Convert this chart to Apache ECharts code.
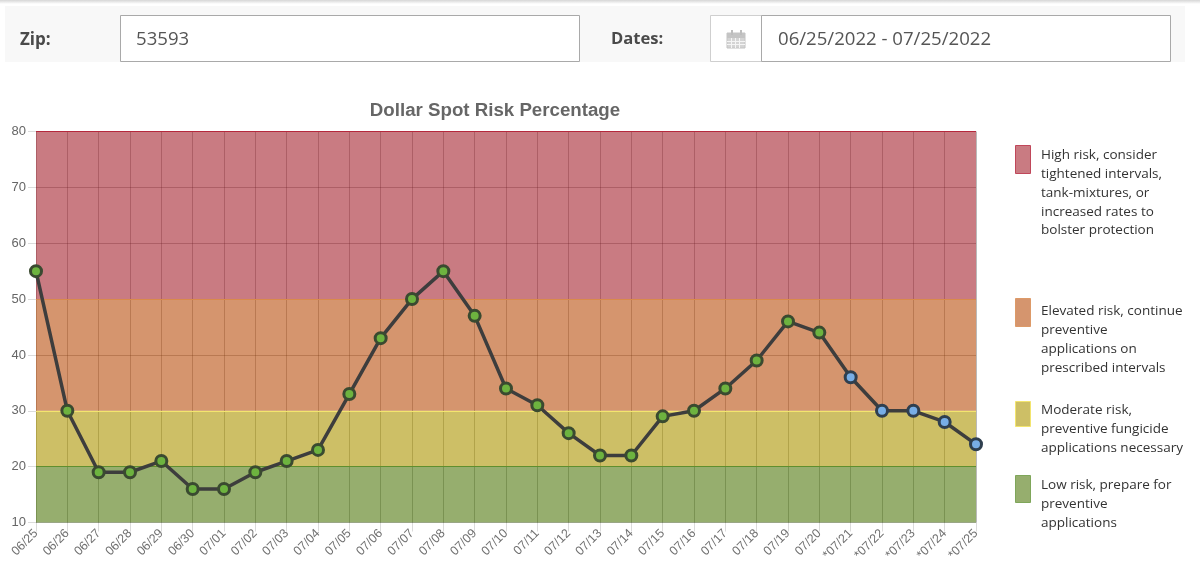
<!DOCTYPE html>
<html>
<head>
<meta charset="utf-8">
<script src="https://cdn.jsdelivr.net/npm/echarts@6/dist/echarts.min.js"></script>
<style>html,body{margin:0;padding:0;background:#fff}#c{width:1200px;height:561px}</style>
</head>
<body>
<div id="c"></div>
<script>
var categories = ['06/25','06/26','06/27','06/28','06/29','06/30','07/01','07/02','07/03','07/04','07/05','07/06','07/07','07/08','07/09','07/10','07/11','07/12','07/13','07/14','07/15','07/16','07/17','07/18','07/19','07/20','*07/21','*07/22','*07/23','*07/24','*07/25'];
var riskValues = [55,30,19,19,21,16,16,19,21,23,33,43,50,55,47,34,31,26,22,22,29,30,34,39,46,44,36,30,30,28,24];
var bandLower = [50,30,20,10];
var bandUpper = [80,50,30,20];
var bandFill = ['rgba(165,35,47,0.6)','rgba(185,78,13,0.6)','rgba(172,148,0,0.6)','rgba(80,120,13,0.6)'];
var bandEdge = ['#b5283c','#d98a4a','#f3e56e','#5f8f2e'];
var swatchFill = ['#c97b82','#d5956e','#cdbf66','#96ae6e'];
var swatchEdge = ['#c0475a','#dd9a68','#f3e56e','#7fa65a'];
var legendLines = [
  'High risk, consider\ntightened intervals,\ntank-mixtures, or\nincreased rates to\nbolster protection',
  'Elevated risk, continue\npreventive\napplications on\nprescribed intervals',
  'Moderate risk,\npreventive fungicide\napplications necessary',
  'Low risk, prepare for\npreventive\napplications'
];
var swatchTop = [145,298,401,475];
var swatchHeight = [28,28,25,27];
var textTop = [146,302,401,476];

var FORM = '"Open Sans", sans-serif';
var CHART = '"Liberation Sans", Arial, sans-serif';

function box(x,y,w,h,fill,stroke){
  return {type:'rect',silent:true,shape:{x:x+.5,y:y+.5,width:w,height:h},style:{fill:fill,stroke:stroke||null,lineWidth:stroke?1:0}};
}
function label(x,y,text,font,color){
  return {type:'text',silent:true,x:x,y:y,style:{text:text,font:font,fill:color,textVerticalAlign:'middle'}};
}
var g = [];
g.push({type:'rect',silent:true,shape:{x:0,y:0,width:1200,height:4},style:{fill:new echarts.graphic.LinearGradient(0,0,0,1,[{offset:0,color:'#d6d6d6'},{offset:1,color:'#ffffff'}])}});
g.push({type:'rect',silent:true,shape:{x:5,y:6,width:1180,height:56},style:{fill:'#f8f8f8'}});
g.push(label(20,40,'Zip:','bold 17px '+FORM,'#4a4a4a'));
g.push(box(120,15,459,46,'#ffffff','#a9a9a9'));
g.push(label(136,40,'53593','18.6px '+FORM,'#555555'));
g.push(label(611,39.5,'Dates:','bold 16.6px '+FORM,'#4a4a4a'));
g.push(box(710,15,51,46,'#ffffff','#cfcfcf'));
g.push(box(761,15,409,46,'#ffffff','#a9a9a9'));
g.push(label(778,40,'06/25/2022 - 07/25/2022','18.6px '+FORM,'#555555'));
// calendar icon
g.push({type:'rect',silent:true,shape:{x:727,y:33,width:18,height:15},style:{fill:'#d4d4d4',stroke:'#c4c4c4'}});
g.push({type:'rect',silent:true,shape:{x:727,y:33,width:18,height:5},style:{fill:'#c4c4c4'}});
[731,740].forEach(function(x){g.push({type:'rect',silent:true,shape:{x:x,y:30,width:2,height:5},style:{fill:'#bdbdbd'}});});
[731.5,735.5,739.5].forEach(function(x){g.push({type:'line',silent:true,shape:{x1:x,y1:38,x2:x,y2:48},style:{stroke:'#f5f5f5',lineWidth:1}});});
[41.5,44.5].forEach(function(y){g.push({type:'line',silent:true,shape:{x1:727,y1:y,x2:745,y2:y},style:{stroke:'#f5f5f5',lineWidth:1}});});

legendLines.forEach(function(t,i){
  g.push(box(1015,swatchTop[i],15,swatchHeight[i],swatchFill[i],swatchEdge[i]));
  g.push({type:'text',silent:true,x:1041,y:textTop[i],style:{text:t,font:'13.5px '+FORM,fill:'#333333',lineHeight:18.8,textVerticalAlign:'top'}});
});

var chart = echarts.init(document.getElementById('c'));
chart.setOption({
  animation:false,
  backgroundColor:'#ffffff',
  title:{text:'Dollar Spot Risk Percentage',left:490,top:96,textAlign:'center',textStyle:{fontFamily:CHART,fontWeight:'bold',fontSize:18.7,color:'#666666'}},
  grid:{left:36,right:224,top:131.5,bottom:38.5,outerBoundsMode:'none'},
  xAxis:{type:'category',data:categories,boundaryGap:false,
    axisLine:{show:false},
    axisTick:{show:true,alignWithLabel:true,length:9,lineStyle:{color:'rgba(0,0,0,0.14)'}},
    axisLabel:{interval:0,rotate:45,fontFamily:CHART,fontSize:12.5,color:'#707070',margin:9},
    splitLine:{show:true,interval:0,lineStyle:{color:'rgba(0,0,0,0.27)',width:1}}},
  yAxis:{type:'value',min:10,max:80,interval:10,
    axisLine:{show:false},
    axisTick:{show:true,length:8,lineStyle:{color:'rgba(0,0,0,0.14)'}},
    axisLabel:{fontFamily:CHART,fontSize:13,color:'#666666',margin:10},
    splitLine:{show:true,lineStyle:{color:'rgba(0,0,0,0.27)',width:1}}},
  series:[
    {type:'line',name:'Bands',data:[],silent:true,z:1,
      markArea:{silent:true,z:1,data:bandLower.map(function(lo,i){
        return [{yAxis:bandUpper[i],itemStyle:{color:bandFill[i],borderWidth:0}},{yAxis:lo}];
      })},
      markLine:{silent:true,z:1,symbol:'none',label:{show:false},data:bandUpper.map(function(hi,i){
        return {yAxis:hi,lineStyle:{color:bandEdge[i],width:1.2,type:'solid'}};
      })}},
    {type:'line',name:'Risk',z:3,symbol:'circle',symbolSize:11,showSymbol:true,clip:false,
      lineStyle:{color:'#3d3d3d',width:3.5},
      data:riskValues.map(function(v,i){
        var forecast = categories[i].charAt(0)==='*';
        return {value:v,itemStyle:{color:forecast?'#78aee6':'#6db33f',borderColor:forecast?'#2f3f4f':'#3a4a30',borderWidth:3}};
      })}
  ],
  graphic:g
});
</script>
</body>
</html>
